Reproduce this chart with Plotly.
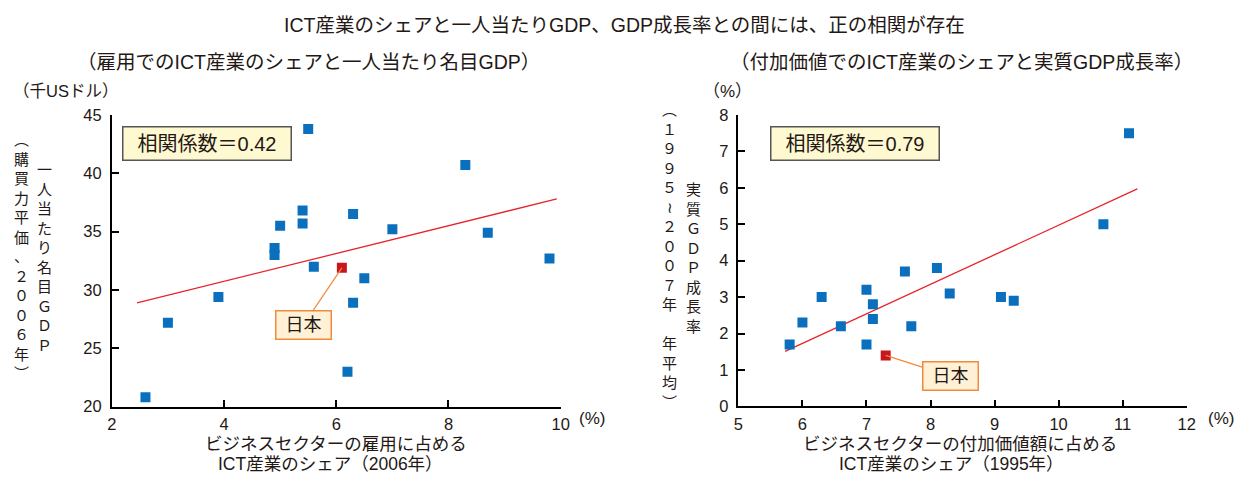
import plotly.graph_objects as go

W, H = 1253, 485

# ---- Left chart: employment share of ICT vs nominal GDP per capita ----
emp_share = [2.6, 3.0, 3.9, 4.9, 4.9, 5.0, 5.4, 5.4, 5.5, 5.6, 6.3, 6.5, 6.3, 6.2, 7.0, 8.3, 8.7, 9.8]
gdp_per_capita = [20.8, 27.2, 29.4, 33.6, 33.0, 35.5, 36.8, 35.7, 43.8, 32.0, 36.5, 31.0, 28.9, 23.0, 35.2, 40.7, 34.9, 32.7]
japan_emp_share = [6.1]
japan_gdp_per_capita = [31.9]
trend1_x = [2.45, 9.93]
trend1_y = [28.9, 37.8]
x1_ticks = [2, 4, 6, 8, 10]
y1_ticks = [20, 25, 30, 35, 40, 45]

# ---- Right chart: value-added share of ICT vs real GDP growth ----
va_share = [5.8, 6.0, 6.3, 6.6, 7.0, 7.0, 7.1, 7.1, 7.6, 7.7, 8.1, 8.3, 9.1, 9.3, 10.7, 11.1]
gdp_growth = [1.7, 2.3, 3.0, 2.2, 3.2, 1.7, 2.8, 2.4, 3.7, 2.2, 3.8, 3.1, 3.0, 2.9, 5.0, 7.5]
japan_va_share = [7.3]
japan_gdp_growth = [1.4]
trend2_x = [5.73, 11.23]
trend2_y = [1.51, 5.97]
x2_ticks = [5, 6, 7, 8, 9, 10, 11, 12]
y2_ticks = [0, 1, 2, 3, 4, 5, 6, 7, 8]

BLUE = "#0a6fbd"
RED = "#c8161d"
LINE_RED = "#e8232b"
TXT = "#231815"
FONT = "Liberation Sans, Noto Sans CJK JP, sans-serif"


def px(x):
    return x / W


def py(y):
    return 1 - y / H


fig = go.Figure()

fig.add_trace(go.Scatter(x=trend1_x, y=trend1_y, mode="lines",
                         line=dict(color=LINE_RED, width=1.3), xaxis="x", yaxis="y", showlegend=False))
fig.add_trace(go.Scatter(x=emp_share, y=gdp_per_capita, mode="markers",
                         marker=dict(symbol="square", size=10, color=BLUE, line=dict(width=0)),
                         xaxis="x", yaxis="y", showlegend=False))
fig.add_trace(go.Scatter(x=japan_emp_share, y=japan_gdp_per_capita, mode="markers",
                         marker=dict(symbol="square", size=10, color=RED, line=dict(width=0)),
                         xaxis="x", yaxis="y", showlegend=False))

fig.add_trace(go.Scatter(x=trend2_x, y=trend2_y, mode="lines",
                         line=dict(color=LINE_RED, width=1.3), xaxis="x2", yaxis="y2", showlegend=False))
fig.add_trace(go.Scatter(x=va_share, y=gdp_growth, mode="markers",
                         marker=dict(symbol="square", size=10, color=BLUE, line=dict(width=0)),
                         xaxis="x2", yaxis="y2", showlegend=False))
fig.add_trace(go.Scatter(x=japan_va_share, y=japan_gdp_growth, mode="markers",
                         marker=dict(symbol="square", size=10, color=RED, line=dict(width=0)),
                         xaxis="x2", yaxis="y2", showlegend=False))

axis_common = dict(showline=True, linecolor="black", linewidth=1.6, ticks="inside",
                   ticklen=7, tickwidth=1.5, tickcolor="black", showgrid=False,
                   zeroline=False, tickfont=dict(size=16.5, color=TXT, family=FONT),
                   fixedrange=True, mirror=False)

fig.update_layout(
    width=W, height=H,
    margin=dict(l=0, r=0, t=0, b=0),
    paper_bgcolor="white", plot_bgcolor="white",
    font=dict(family=FONT, color=TXT),
    xaxis=dict(domain=[px(108), px(562)], range=[2, 10], tickvals=x1_ticks, anchor="y",
               ticklabelstandoff=2, **axis_common),
    yaxis=dict(domain=[py(413), py(110)], range=[20, 45], tickvals=y1_ticks, anchor="x",
               ticklabelstandoff=5, **axis_common),
    xaxis2=dict(domain=[px(741.7), px(1195)], range=[5, 12], tickvals=x2_ticks, anchor="y2",
                ticklabelstandoff=2, **axis_common),
    yaxis2=dict(domain=[py(412.7), py(110)], range=[0, 8], tickvals=y2_ticks, anchor="x2",
                ticklabelstandoff=5, **axis_common),
)


def txt(x, y, text, size, **kw):
    d = dict(x=px(x), y=py(y), xref="paper", yref="paper", text=text, showarrow=False,
             xanchor="center", yanchor="middle", font=dict(size=size, color=TXT, family=FONT))
    d.update(kw)
    fig.add_annotation(**d)


# titles
txt(626, 17, "ICT産業のシェアと一人当たりGDP、GDP成長率との間には、正の相関が存在", 19.5)
txt(307, 55, "（雇用でのICT産業のシェアと一人当たり名目GDP）", 19.5)
txt(967, 55, "（付加価値でのICT産業のシェアと実質GDP成長率）", 19.5)

# units
txt(61, 85, "（千USドル）", 16.5)
txt(731, 86, "（%）", 17)
txt(594, 425, "(%)", 17)
txt(1230, 425, "(%)", 17)

# x axis titles
txt(335, 452, "ビジネスセクターの雇用に占める", 17.5)
txt(329, 473, "ICT産業のシェア（2006年）", 17.5)
txt(966, 452, "ビジネスセクターの付加価値額に占める", 17.5)
txt(957, 473, "ICT産業のシェア（1995年）", 17.5)


def vertical(s):
    return "<br>".join(list(s))


# vertical y axis titles
txt(40, 258, vertical("一人当たり名目ＧＤＰ"), 15)
txt(17, 257, vertical("︵購買力平価、２００６年︶"), 15)
txt(696, 259, vertical("実質ＧＤＰ成長率"), 15)
txt(672, 257, vertical("︵１９９５≀２００７年　年平均︶"), 15)

# correlation boxes
for cx, label in [(204, "相関係数＝0.42"), (860, "相関係数＝0.79")]:
    txt(cx, 139.5, label, 20, bgcolor="#fff9d2", bordercolor="#555555", borderwidth=1.5,
        borderpad=0, width=167, height=32)

# Japan labels with leader lines
fig.add_annotation(x=japan_emp_share[0], y=japan_gdp_per_capita[0], xref="x", yref="y",
                   text="日本", showarrow=True, arrowhead=0, arrowwidth=1.2, arrowcolor="#f08a3c",
                   ax=-38.5, ay=57, font=dict(size=18, color=TXT, family=FONT),
                   bgcolor="#fff0d6", bordercolor="#f08a3c", borderwidth=1.5, borderpad=0,
                   width=54, height=27)
fig.add_annotation(x=japan_va_share[0], y=japan_gdp_growth[0], xref="x2", yref="y2",
                   text="日本", showarrow=True, arrowhead=0, arrowwidth=1.2, arrowcolor="#f08a3c",
                   ax=65, ay=21, font=dict(size=18, color=TXT, family=FONT),
                   bgcolor="#fff0d6", bordercolor="#f08a3c", borderwidth=1.5, borderpad=0,
                   width=54, height=27)

fig.write_html("out.html")
